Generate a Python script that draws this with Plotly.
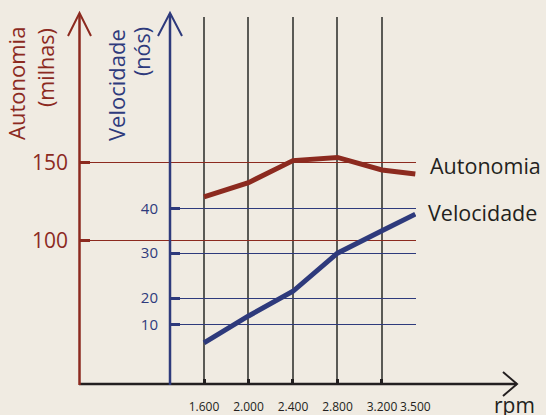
import plotly.graph_objects as go

# ---------------- data ----------------
RPM = [1600, 2000, 2400, 2800, 3200, 3500]
RPM_LABELS = ["1.600", "2.000", "2.400", "2.800", "3.200", "3.500"]
AUTONOMIA = [128, 137, 151, 153, 145, 142.5]
VELOCIDADE = [10, 16, 21.5, 30, 35, 38.7]
AUT_TICKS = [100, 150]
VEL_TICK_LABELS = ["10", "20", "30", "40"]

# ---------------- style ----------------
W, H = 546, 415
BG = "#F0EBE2"
RED = "#8C2A1F"
BLUE = "#2E3A7C"
DARK = "#231F20"
GRID = "#5A5A55"
FONT = "Open Sans"


def px(x):
    return x / W


def py(y):
    return 1 - y / H


fig = go.Figure()
fig.add_trace(go.Scatter(x=RPM, y=AUTONOMIA, mode="lines", xaxis="x", yaxis="y",
                         line=dict(color=RED, width=5), hoverinfo="skip", showlegend=False))
fig.add_trace(go.Scatter(x=RPM, y=VELOCIDADE, mode="lines", xaxis="x2", yaxis="y2",
                         line=dict(color=BLUE, width=5), hoverinfo="skip", showlegend=False))

# pixel calibration of the axes (plot area)
X_LEFT, X_BLUE, X_RIGHT = 80, 170, 416
Y_BOTTOM, Y_TOP = 384, 17
K = 0.11122  # px per rpm
x_range = [1600 - (204 - X_LEFT) / K, 1600 + (X_RIGHT - 204) / K]
x2_range = [1600 - (204 - X_BLUE) / K, x_range[1]]

fig.update_layout(
    width=W, height=H, autosize=False,
    margin=dict(l=0, r=0, t=0, b=0, pad=0),
    paper_bgcolor=BG, plot_bgcolor="rgba(0,0,0,0)",
    font=dict(family=FONT, color=DARK),
    xaxis=dict(domain=[px(X_LEFT), px(X_RIGHT)], range=x_range, anchor="y",
               tickvals=RPM, ticktext=RPM_LABELS, ticks="inside", ticklen=5,
               tickwidth=3, tickcolor=DARK, showgrid=True, gridcolor=GRID,
               gridwidth=1.5, zeroline=False, showline=False, tickangle=0,
               automargin=False,
               tickfont=dict(size=12, color=DARK), ticklabelstandoff=14),
    yaxis=dict(domain=[py(Y_BOTTOM), py(Y_TOP)], range=[9.1, 242.2], anchor="x",
               tickvals=AUT_TICKS, ticks="inside", ticklen=10, tickwidth=3,
               tickcolor=RED, showgrid=True, gridcolor=RED, gridwidth=1,
               zeroline=False, showline=False, automargin=False,
               tickfont=dict(size=21, color=RED), ticklabelstandoff=11),
    xaxis2=dict(domain=[px(X_BLUE), px(X_RIGHT)], range=x2_range, anchor="y2",
                visible=False, showgrid=False, automargin=False),
    yaxis2=dict(domain=[py(Y_BOTTOM), py(Y_TOP)], range=[0.83, 82.65], anchor="x2",
                tickvals=[14, 20, 30, 40], ticktext=VEL_TICK_LABELS,
                ticks="inside", ticklen=10, tickwidth=3, tickcolor=BLUE,
                showgrid=True, gridcolor=BLUE, gridwidth=1, zeroline=False,
                showline=False, automargin=False,
                tickfont=dict(size=15, color=BLUE), ticklabelstandoff=11),
)

# axis lines with open arrow heads
def line(x0, y0, x1, y1, color, width):
    fig.add_shape(type="line", xref="paper", yref="paper",
                  x0=px(x0), y0=py(y0), x1=px(x1), y1=py(y1),
                  line=dict(color=color, width=width))

def chevron(pts, color, width):
    path = "M " + " L ".join(f"{px(a)},{py(b)}" for a, b in pts)
    fig.add_shape(type="path", xref="paper", yref="paper", path=path,
                  line=dict(color=color, width=width))

line(79, 384, 517, 384, DARK, 2.5)
chevron([(503, 372), (517, 384), (503, 396)], DARK, 2)
line(79.5, 385, 79.5, 14, RED, 2.5)
chevron([(68, 36), (79.5, 13), (91, 36)], RED, 2)
line(170, 385, 170, 14, BLUE, 2.5)
chevron([(158, 36), (170, 13), (182, 36)], BLUE, 2)

def text(s, x, y, size, color, xanchor="left", yanchor="middle", angle=0):
    fig.add_annotation(text=s, xref="paper", yref="paper", x=px(x), y=py(y),
                       xanchor=xanchor, yanchor=yanchor, showarrow=False,
                       textangle=angle, font=dict(size=size, color=color, family=FONT))

text("Autonomia", 428, 165, 21.5, DARK)
text("Velocidade", 426, 213, 21.5, DARK)
text("rpm", 492, 405, 21, DARK)
text("Autonomia", 16, 84, 22, RED, "center", "middle", -90)
text("(milhas)", 46, 68, 21.5, RED, "center", "middle", -90)
text("Velocidade", 116, 85, 22, BLUE, "center", "middle", -90)
text("(nós)", 142, 52, 21.5, BLUE, "center", "middle", -90)

fig.write_html(
    "out.html",
    config={"responsive": False, "displayModeBar": False},
    post_script="document.body.style.margin='0';document.body.style.overflow='hidden';",
)
